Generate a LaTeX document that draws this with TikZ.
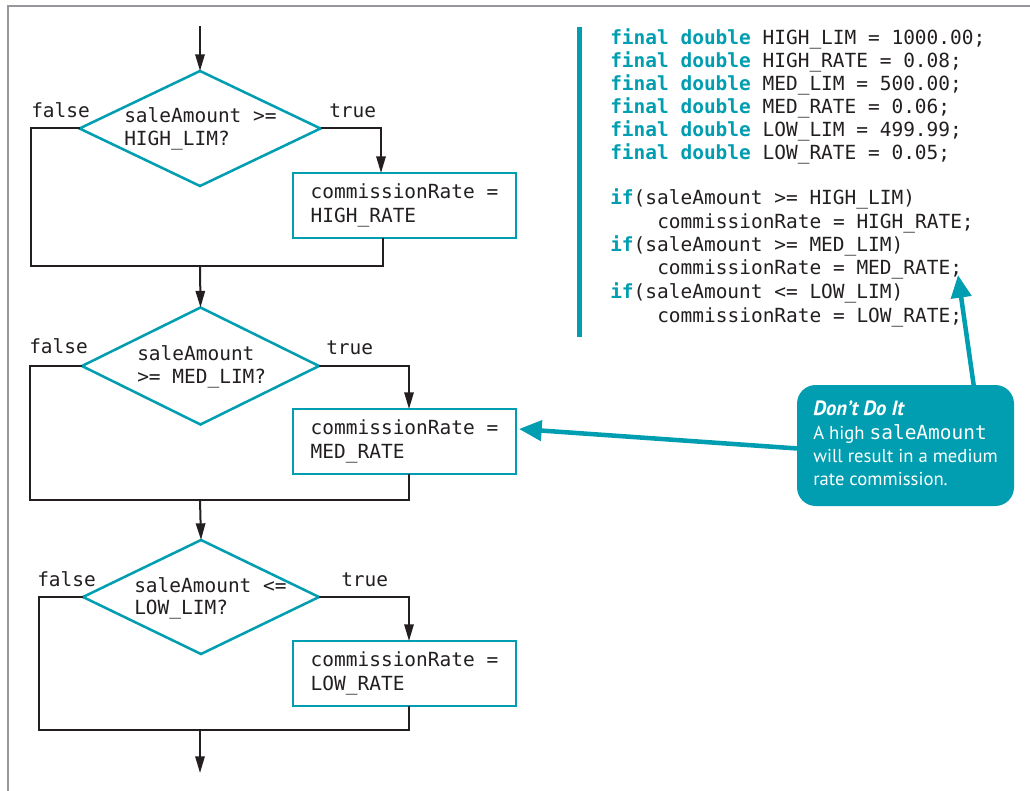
\documentclass[tikz,border=0pt]{standalone}
\usepackage{fontspec}
\setmainfont{PT Sans}
\setsansfont{PT Sans}
\setmonofont{DejaVu Sans Mono}
\usetikzlibrary{arrows.meta,calc,shapes.geometric}
\definecolor{teal1}{RGB}{0,158,176}
\definecolor{ink}{RGB}{35,31,32}
\definecolor{framegray}{RGB}{150,150,156}
\newcommand{\kw}[1]{{\bfseries\color{teal1}#1}}
\begin{document}
\begin{tikzpicture}[x=0.75pt,y=-0.75pt,
  mono/.style={font=\ttfamily\fontsize{14.6}{17.5}\selectfont, text=ink},
  codeline/.style={mono, anchor=base west, inner sep=0pt},
  dia/.style={diamond, draw=teal1, line width=1.9pt, inner sep=0pt, outer sep=0pt},
  procbox/.style={rectangle, draw=teal1, line width=1.9pt, mono, align=left,
     inner xsep=0pt, inner ysep=0pt, outer sep=0pt,
     minimum width=223*0.75pt, minimum height=65*0.75pt},
  flow/.style={draw=ink, line width=1.5pt},
  arr/.style={flow, -{Triangle[length=12.5pt,width=7pt]}},
  callout/.style={rectangle, rounded corners=14pt, fill=teal1, inner sep=0pt,
     minimum width=217*0.75pt, minimum height=121*0.75pt},
  calltext/.style={anchor=base west, inner sep=0pt, text=white,
     font=\sffamily\fontsize{14}{17.5}\selectfont},
  tarr/.style={draw=teal1, line width=3.4pt, -{Triangle[length=17pt,width=15pt]}}
]
\useasboundingbox (0,0) rectangle (1030,791);
% frame
\draw[framegray, line width=2.2pt] (8,791) -- (8,6) -- (1030,6);

% ---------- flowchart ----------
\coordinate (start) at (200,26);
\node[dia, minimum width=241*0.75pt, minimum height=115*0.75pt] (d1) at (200,128.5) {};
\node[codeline] (q1a) at (124,123) {saleAmount >=};
\node[codeline] (q1b) at (124,146) {HIGH\_LIM?};
\node[codeline] (f1) at (31,118) {false};
\node[codeline] (t1) at (329,118) {true};
\node[procbox] (b1) at (404.5,205.5) {commissionRate =\\HIGH\_RATE};
\coordinate (j1) at (200,266);

\node[dia, minimum width=237*0.75pt, minimum height=117*0.75pt] (d2) at (200.5,366) {};
\node[codeline] (q2a) at (137,360) {saleAmount};
\node[codeline] (q2b) at (137,383) {>= MED\_LIM?};
\node[codeline] (f2) at (29,353) {false};
\node[codeline] (t2) at (326,354) {true};
\node[procbox] (b2) at (404.5,441.5) {commissionRate =\\MED\_RATE};
\coordinate (j2) at (200,500);

\node[dia, minimum width=236*0.75pt, minimum height=114*0.75pt] (d3) at (201,597) {};
\node[codeline] (q3a) at (134,592) {saleAmount <=};
\node[codeline] (q3b) at (134,614) {LOW\_LIM?};
\node[codeline] (f3) at (37,586) {false};
\node[codeline] (t3) at (341,586) {true};
\node[procbox] (b3) at (404.5,673.5) {commissionRate =\\LOW\_RATE};
\coordinate (j3) at (200,730);
\coordinate (finish) at (200,773);

\draw[arr] (start) -- (d1.north);
\draw[arr] (d1.east) -| ($(b1.north west)+(88,0)$);
\draw[flow] (d1.west) -- ++(-49,0) |- (j1) -| ($(b1.south west)+(90,0)$);
\draw[arr] (j1) -- (d2.north);
\draw[arr] (d2.east) -| ($(b2.north west)+(116,0)$);
\draw[flow] (d2.west) -- ++(-52.5,0) |- (j2) -| ($(b2.south west)+(116,0)$);
\draw[arr] (j2) -- (d3.north);
\draw[arr] (d3.east) -| ($(b3.north west)+(116,0)$);
\draw[flow] (d3.west) -- ++(-44,0) |- (j3) -| ($(b3.south west)+(116,0)$);
\draw[arr] (j3) -- (finish);

% ---------- code ----------
\draw[teal1, line width=3.4pt] (579.5,27) -- (579.5,337);
\node[codeline] (c1) at (610,45) {\kw{final double} HIGH\_LIM = 1000.00;};
\node[codeline] (c2) at (610,68) {\kw{final double} HIGH\_RATE = 0.08;};
\node[codeline] (c3) at (610,91) {\kw{final double} MED\_LIM = 500.00;};
\node[codeline] (c4) at (610,114) {\kw{final double} MED\_RATE = 0.06;};
\node[codeline] (c5) at (610,137) {\kw{final double} LOW\_LIM = 499.99;};
\node[codeline] (c6) at (610,160) {\kw{final double} LOW\_RATE = 0.05;};
\node[codeline] (c7) at (610,205) {\kw{if}(saleAmount >= HIGH\_LIM)};
\node[codeline] (c8) at (657,228.5) {commissionRate = HIGH\_RATE;};
\node[codeline] (c9) at (610,252) {\kw{if}(saleAmount >= MED\_LIM)};
\node[codeline] (c10) at (657,275) {commissionRate = MED\_RATE;};
\node[codeline] (c11) at (610,298.5) {\kw{if}(saleAmount <= LOW\_LIM)};
\node[codeline] (c12) at (657,322) {commissionRate = LOW\_RATE;};

% ---------- callout ----------
\node[callout] (call) at (905.5,445.5) {};
\node[calltext, font=\sffamily\fontsize{15.5}{17.5}\selectfont] (k1) at (813,415) {\textbf{\textit{Don’t Do It}}};
\node[calltext] (k2) at (813,439) {A high {\ttfamily\fontsize{14.6}{17.5}\selectfont saleAmount}};
\node[calltext] (k3) at (813,462.5) {will result in a medium};
\node[calltext] (k4) at (813,485.5) {rate commission.};
\coordinate (tipA) at (958,275);
\coordinate (tipB) at (519,429);
\draw[tarr] ($(call.north west)+(178,8)$) -- (tipA);
\draw[tarr] ($(call.west)+(8,3.5)$) -- (tipB);
\end{tikzpicture}
\end{document}
